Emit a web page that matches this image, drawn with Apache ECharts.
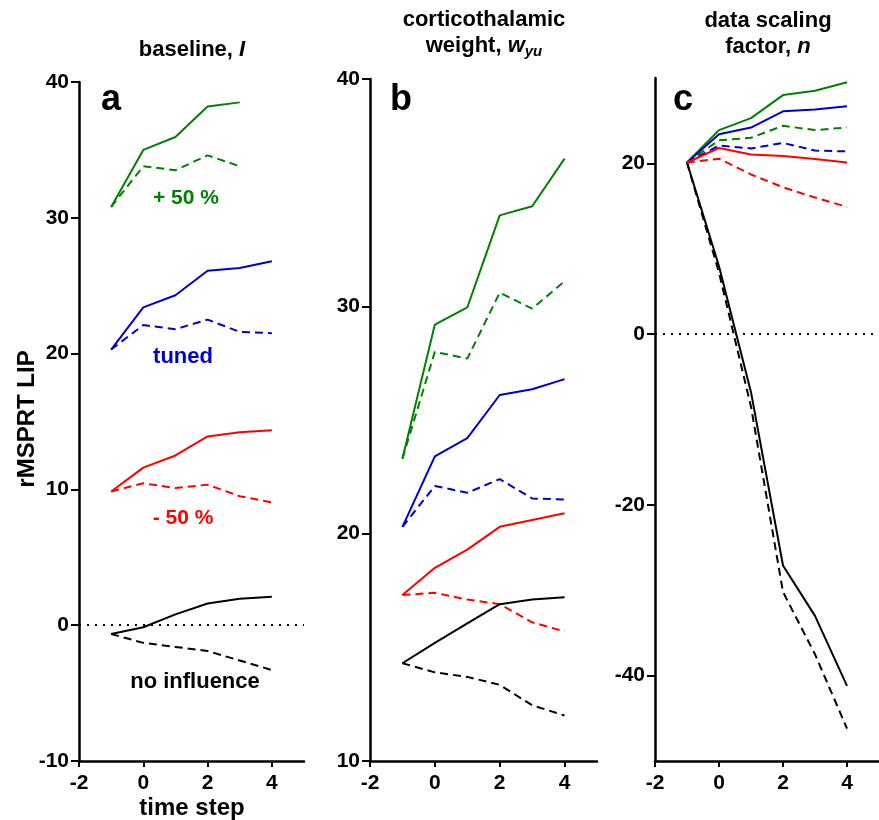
<!DOCTYPE html>
<html>
<head>
<meta charset="utf-8">
<script src="https://cdn.jsdelivr.net/npm/echarts@6/dist/echarts.min.js"></script>
<style>html,body{margin:0;padding:0;background:#fff}#c{width:879px;height:820px}</style>
</head>
<body>
<div id="c"></div>
<script>
// ---- data ----
const steps = [-1, 0, 1, 2, 3, 4];
const xTicks = [-2, 0, 2, 4];

// panel a: baseline, I
const aGreenSolid = [30.8, 35.0, 35.95, 38.2, 38.5];
const aGreenDash  = [30.8, 33.8, 33.5, 34.6, 33.8];
const aBlueSolid  = [20.3, 23.4, 24.3, 26.1, 26.3, 26.8];
const aBlueDash   = [20.3, 22.1, 21.8, 22.5, 21.6, 21.5];
const aRedSolid   = [9.85, 11.6, 12.5, 13.9, 14.2, 14.35];
const aRedDash    = [9.85, 10.45, 10.1, 10.35, 9.5, 9.05];
const aBlackSolid = [-0.65, -0.15, 0.8, 1.6, 1.95, 2.1];
const aBlackDash  = [-0.65, -1.3, -1.6, -1.9, -2.6, -3.3];
const aYTicks = [-10, 0, 10, 20, 30, 40];

// panel b: corticothalamic weight, w_yu
const bGreenSolid = [23.3, 29.2, 29.95, 34.0, 34.4, 36.5];
const bGreenDash  = [23.3, 28.0, 27.7, 30.6, 29.9, 31.1];
const bBlueSolid  = [20.3, 23.4, 24.2, 26.1, 26.35, 26.8];
const bBlueDash   = [20.3, 22.1, 21.8, 22.4, 21.55, 21.5];
const bRedSolid   = [17.3, 18.5, 19.3, 20.3, 20.6, 20.9];
const bRedDash    = [17.3, 17.4, 17.1, 16.9, 16.1, 15.7];
const bBlackSolid = [14.3, 15.2, 16.05, 16.9, 17.1, 17.2];
const bBlackDash  = [14.3, 13.9, 13.7, 13.35, 12.45, 12.0];
const bYTicks = [10, 20, 30, 40];

// panel c: data scaling factor, n
const cGreenSolid = [20.1, 23.9, 25.3, 28.0, 28.5, 29.5];
const cGreenDash  = [20.1, 22.7, 23.0, 24.4, 23.9, 24.2];
const cBlueSolid  = [20.1, 23.4, 24.2, 26.1, 26.3, 26.7];
const cBlueDash   = [20.1, 22.1, 21.75, 22.4, 21.5, 21.4];
const cRedSolid   = [20.1, 21.8, 21.05, 20.85, 20.5, 20.1];
const cRedDash    = [20.1, 20.55, 18.7, 17.2, 16.0, 14.9];
const cBlackSolid = [20.1, 7.95, -6.8, -27.1, -33.0, -41.2];
const cBlackDash  = [20.1, 7.2, -8.5, -30.2, -37.5, -46.2];
const cYTicks = [-40, -20, 0, 20];

// ---- styling ----
const FONT = '"Liberation Sans", Arial, Helvetica, sans-serif';
const GREEN = '#008000', BLUE = '#0000cc', RED = '#ff0000', BLACK = '#000000';
const DASH = [8, 5];

const grids = [
  { left: 79, top: 82, width: 225, height: 679 },
  { left: 370, top: 79, width: 227, height: 682 },
  { left: 655, top: 78, width: 226, height: 683 }
];

function xAxis(i) {
  return {
    type: 'value', gridIndex: i, min: -2, max: 5,
    axisLine: { show: true, onZero: false, lineStyle: { color: BLACK, width: 2.5 } },
    axisTick: { show: true, length: 6, lineStyle: { color: BLACK, width: 2 }, customValues: xTicks },
    axisLabel: { show: true, color: BLACK, fontSize: 21, fontWeight: 'bold', fontFamily: FONT, margin: 12, customValues: xTicks },
    splitLine: { show: false }
  };
}
function yAxis(i, min, max, ticks) {
  return {
    type: 'value', gridIndex: i, min: min, max: max,
    axisLine: { show: true, onZero: false, lineStyle: { color: BLACK, width: 2.5 } },
    axisTick: { show: true, length: 8, lineStyle: { color: BLACK, width: 2 }, customValues: ticks },
    axisLabel: { show: true, color: BLACK, fontSize: 21, fontWeight: 'bold', fontFamily: FONT, margin: 10, customValues: ticks },
    splitLine: { show: false }
  };
}
function pairs(vals) { return vals.map((v, k) => [steps[k], v]); }
function line(i, vals, color, dashed, zeroLine) {
  const s = {
    type: 'line', xAxisIndex: i, yAxisIndex: i, data: pairs(vals),
    symbol: 'none', silent: true, animation: false,
    lineStyle: { color: color, width: 2, type: dashed ? DASH : 'solid' }
  };
  if (zeroLine) {
    s.markLine = {
      silent: true, symbol: 'none', animation: false, label: { show: false },
      lineStyle: { color: BLACK, width: 2, type: [2, 6] },
      data: [{ yAxis: 0 }]
    };
  }
  return s;
}

const series = [
  line(0, aGreenSolid, GREEN, false), line(0, aGreenDash, GREEN, true),
  line(0, aBlueSolid, BLUE, false), line(0, aBlueDash, BLUE, true),
  line(0, aRedSolid, RED, false), line(0, aRedDash, RED, true),
  line(0, aBlackSolid, BLACK, false, true), line(0, aBlackDash, BLACK, true),

  line(1, bGreenSolid, GREEN, false), line(1, bGreenDash, GREEN, true),
  line(1, bBlueSolid, BLUE, false), line(1, bBlueDash, BLUE, true),
  line(1, bRedSolid, RED, false), line(1, bRedDash, RED, true),
  line(1, bBlackSolid, BLACK, false), line(1, bBlackDash, BLACK, true),

  line(2, cBlackSolid, BLACK, false, true), line(2, cBlackDash, BLACK, true),
  line(2, cGreenSolid, GREEN, false), line(2, cGreenDash, GREEN, true),
  line(2, cBlueSolid, BLUE, false), line(2, cBlueDash, BLUE, true),
  line(2, cRedSolid, RED, false), line(2, cRedDash, RED, true)
];

function txt(x, y, text, size, color, extra) {
  return {
    type: 'text', x: x, y: y, silent: true,
    style: Object.assign({ text: text, fill: color || BLACK, font: 'bold ' + size + 'px ' + FONT,
      textAlign: 'center', textVerticalAlign: 'middle' }, extra || {})
  };
}

const TS = 22;
const subRich = {
  i: { fontStyle: 'italic', fontWeight: 'bold', fontSize: TS, fontFamily: FONT, fill: BLACK },
  sub: { fontStyle: 'italic', fontWeight: 'bold', fontSize: 15, fontFamily: FONT, fill: BLACK, padding: [11, 0, 0, 0] },
  n: { fontWeight: 'bold', fontSize: TS, fontFamily: FONT, fill: BLACK }
};

const graphic = [
  // titles
  { type: 'text', x: 192, y: 50, silent: true, style: { text: '{n|baseline, }{i|I}', rich: subRich, textAlign: 'center', textVerticalAlign: 'middle' } },
  txt(484, 20, 'corticothalamic', TS),
  { type: 'text', x: 484, y: 46, silent: true, style: { text: '{n|weight, }{i|w}{sub|yu}', rich: subRich, textAlign: 'center', textVerticalAlign: 'middle' } },
  txt(768, 21, 'data scaling', TS),
  { type: 'text', x: 768, y: 47, silent: true, style: { text: '{n|factor, }{i|n}', rich: subRich, textAlign: 'center', textVerticalAlign: 'middle' } },
  // panel letters
  txt(101, 100, 'a', 36, BLACK, { textAlign: 'left' }),
  txt(390, 100, 'b', 36, BLACK, { textAlign: 'left' }),
  txt(673, 100, 'c', 36, BLACK, { textAlign: 'left' }),
  // annotations in panel a
  txt(186, 198, '+ 50 %', 21, GREEN),
  txt(183, 357, 'tuned', 22, BLUE),
  txt(183, 518, '- 50 %', 21, RED),
  txt(195, 682, 'no influence', 22, BLACK),
  // axis titles
  txt(192, 808, 'time step', 24),
  { type: 'text', x: 27, y: 419, rotation: Math.PI / 2, silent: true,
    style: { text: 'rMSPRT LIP', fill: BLACK, font: 'bold 24px ' + FONT, textAlign: 'center', textVerticalAlign: 'middle' } }
];

const chart = echarts.init(document.getElementById('c'), null, { renderer: 'canvas' });
chart.setOption({
  animation: false,
  backgroundColor: '#fff',
  grid: grids,
  xAxis: [xAxis(0), xAxis(1), xAxis(2)],
  yAxis: [yAxis(0, -10, 40, aYTicks), yAxis(1, 10, 40, bYTicks), yAxis(2, -50, 30, cYTicks)],
  series: series,
  graphic: graphic
});
</script>
</body>
</html>
